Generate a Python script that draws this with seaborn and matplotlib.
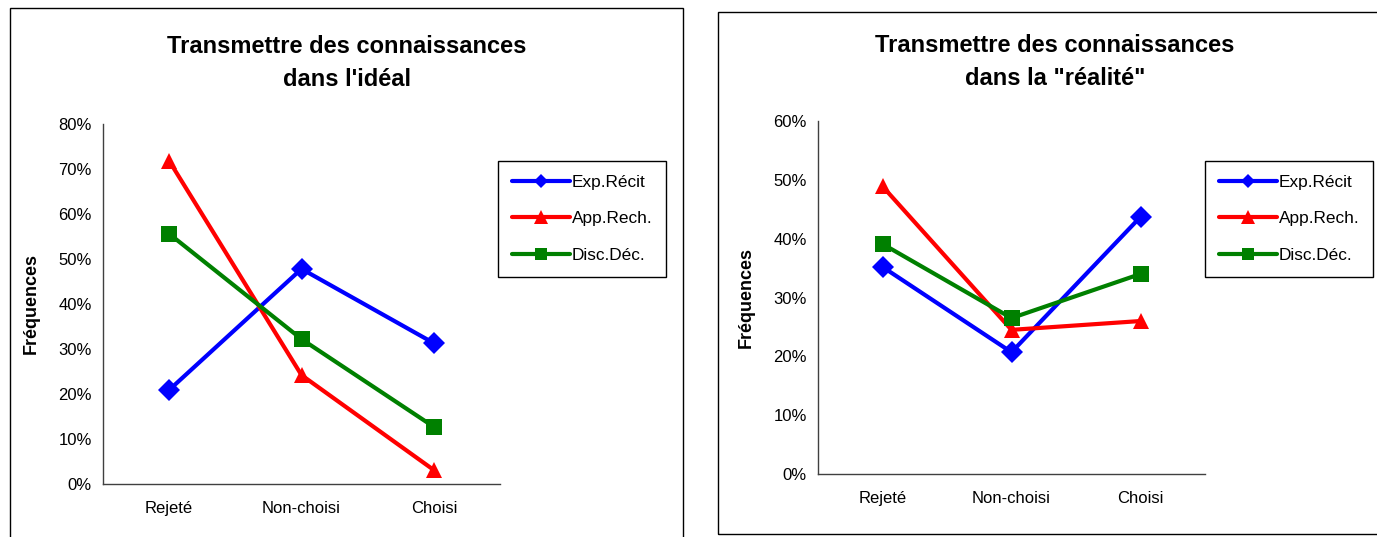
import pandas as pd
import matplotlib.pyplot as plt
import seaborn as sns
from matplotlib.ticker import PercentFormatter, FixedLocator
from matplotlib.patches import Rectangle

# Data (values in %)
categories = ["Rejeté", "Non-choisi", "Choisi"]
series_names = ["Exp.Récit", "App.Rech.", "Disc.Déc."]

ideal_exp = [20.9, 47.8, 31.3]
ideal_app = [71.8, 24.2, 3.1]
ideal_disc = [55.6, 32.2, 12.7]

reel_exp = [35.2, 20.7, 43.7]
reel_app = [48.9, 24.5, 26.0]
reel_disc = [39.1, 26.5, 34.0]

colors = {"Exp.Récit": "#0000FF", "App.Rech.": "#FF0000", "Disc.Déc.": "#008000"}
markers = {"Exp.Récit": "D", "App.Rech.": "^", "Disc.Déc.": "s"}
msizes = {"Exp.Récit": 10, "App.Rech.": 14, "Disc.Déc.": 11}


def to_long(exp, app, disc):
    rows = []
    for name, vals in zip(series_names, [exp, app, disc]):
        for cat, v in zip(categories, vals):
            rows.append({"cat": cat, "val": v, "serie": name})
    return pd.DataFrame(rows)


sns.set_style("white")
plt.rcParams["font.family"] = ["Liberation Sans", "DejaVu Sans"]
plt.rcParams["text.color"] = "black"
plt.rcParams["xtick.color"] = "black"
plt.rcParams["ytick.color"] = "black"
plt.rcParams["axes.labelcolor"] = "black"

fig = plt.figure(figsize=(13.77, 5.37), dpi=100)

# panel borders (like Excel chart areas)
fig.patches.append(Rectangle((10 / 1377, -0.05), 673 / 1377, 1.05 - 8 / 537, transform=fig.transFigure,
                             fill=False, edgecolor="black", linewidth=1.0))
fig.patches.append(Rectangle((718 / 1377, 3 / 537), 0.5, 1 - 15 / 537, transform=fig.transFigure,
                             fill=False, edgecolor="black", linewidth=1.0))

panels = [
    dict(df=to_long(ideal_exp, ideal_app, ideal_disc), rect=[103 / 1377, 53 / 537, 397 / 1377, 360 / 537],
         ymax=80, title="Transmettre des connaissances\ndans l'idéal", tx=347 / 1377, ty=1 - 63 / 537,
         leg=(498 / 1377, 1 - 161 / 537), ylab_x=-0.16),
    dict(df=to_long(reel_exp, reel_app, reel_disc), rect=[818 / 1377, 63 / 537, 387 / 1377, 353 / 537],
         ymax=60, title="Transmettre des connaissances\ndans la \"réalité\"", tx=1055 / 1377, ty=1 - 62 / 537,
         leg=(1205 / 1377, 1 - 161 / 537), ylab_x=-0.163),
]

for p in panels:
    ax = fig.add_axes(p["rect"])
    sns.lineplot(data=p["df"], x="cat", y="val", hue="serie", style="serie", markers=markers,
                 dashes=False, palette=colors, linewidth=3, markersize=11, markeredgewidth=0,
                 sort=False, ax=ax)
    for line in ax.lines:
        lab = line.get_label()
        if lab in msizes:
            line.set_markersize(msizes[lab])

    ax.set_xlim(-0.5, 2.5)
    ax.set_ylim(0, p["ymax"])
    ax.yaxis.set_major_locator(FixedLocator(list(range(0, p["ymax"] + 1, 10))))
    ax.yaxis.set_major_formatter(PercentFormatter(100, decimals=0))
    ax.set_xticks(range(len(categories)))
    ax.set_xticklabels(categories)
    ax.set_xticks([-0.5, 0.5, 1.5, 2.5], minor=True)
    ax.tick_params(axis="x", which="major", length=0, pad=12, labelsize=12)
    ax.tick_params(axis="x", which="minor", length=5, width=1, color="#404040", direction="out")
    ax.tick_params(axis="y", length=5, width=1, color="#404040", direction="out", pad=3, labelsize=12)
    for s in ["top", "right"]:
        ax.spines[s].set_visible(False)
    for s in ["left", "bottom"]:
        ax.spines[s].set_color("#404040")
        ax.spines[s].set_linewidth(1)
    ax.set_xlabel("")
    ax.set_ylabel("Fréquences", fontsize=13, fontweight="bold")
    ax.yaxis.set_label_coords(p["ylab_x"], 0.5)

    handles, labels = ax.get_legend_handles_labels()
    ax.legend(handles, labels, loc="upper left", bbox_to_anchor=p["leg"], bbox_transform=fig.transFigure,
              frameon=True, fancybox=False, edgecolor="black", framealpha=1, fontsize=12.4,
              handlelength=3.4, handletextpad=0.1, labelspacing=1.25, borderpad=0.8, borderaxespad=0,
              markerscale=0.75)
    ax.get_legend().get_frame().set_linewidth(1)

    fig.text(p["tx"], p["ty"], p["title"], ha="center", va="center", fontsize=17, fontweight="bold",
             linespacing=1.6)

fig.savefig("out.png", dpi=100)
